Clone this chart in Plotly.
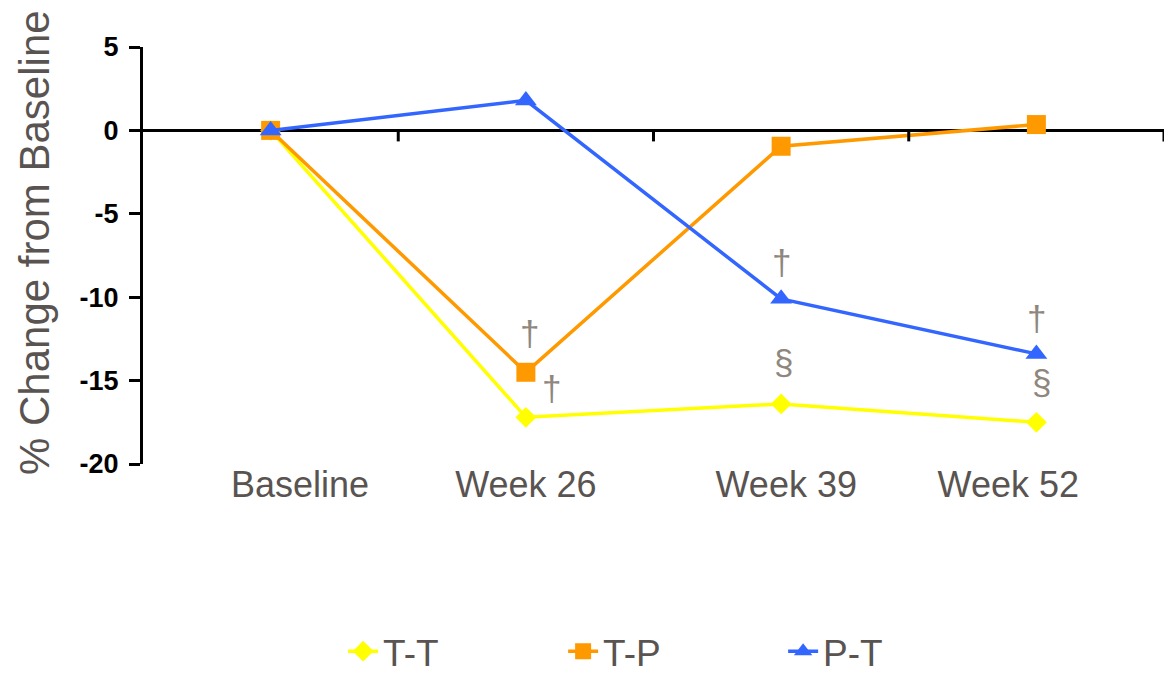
import plotly.graph_objects as go

categories = ["Baseline", "Week 26", "Week 39", "Week 52"]
tt_values = [0.0, -17.2, -16.4, -17.5]
tp_values = [0.0, -14.5, -0.95, 0.35]
pt_values = [0.0, 1.8, -10.1, -13.4]
series_names = ["T-T", "T-P", "P-T"]
y_ticks = [5, 0, -5, -10, -15, -20]
y_tick_text = ["5", "0", "-5", "-10", "-15", "-20"]

# significance marks: (category index, y value, symbol)
sig_marks = [
    (1, -12.2, "\u2020"),
    (1, -15.5, "\u2020"),
    (2, -7.9, "\u2020"),
    (2, -13.9, "\u00a7"),
    (3, -11.3, "\u2020"),
    (3, -15.1, "\u00a7"),
]
sig_xshift = [4, 26, 0, 2, 0, 5]

FONT = "Arial, Liberation Sans, sans-serif"
GRAY = "#595451"
MARK_GRAY = "#8f877e"

fig = go.Figure()
fig.add_trace(go.Scatter(
    x=categories, y=tt_values, name=series_names[0], mode="lines+markers",
    line=dict(color="#FFFF00", width=3.5),
    marker=dict(symbol="diamond", size=16, color="#FFFF00"),
))
fig.add_trace(go.Scatter(
    x=categories, y=tp_values, name=series_names[1], mode="lines+markers",
    line=dict(color="#FF9900", width=3.5),
    marker=dict(symbol="square", size=19, color="#FF9900"),
))
fig.add_trace(go.Scatter(
    x=categories, y=pt_values, name=series_names[2], mode="lines+markers",
    line=dict(color="#3366FF", width=3.5),
    marker=dict(symbol="triangle-up", size=19, color="#3366FF"),
))

annotations = []
for (xi, yv, s), xs in zip(sig_marks, sig_xshift):
    annotations.append(dict(
        x=xi, y=yv, xref="x", yref="y", text=s, showarrow=False,
        xshift=xs, font=dict(family=FONT, size=35, color=MARK_GRAY),
    ))
annotations.append(dict(
    x=0, y=0.53, xref="paper", yref="paper", text="% Change from Baseline",
    textangle=-90, showarrow=False, xanchor="center", yanchor="middle",
    xshift=-108, font=dict(family=FONT, size=42, color=GRAY),
))

shapes = []
for b in [0.5, 1.5, 2.5, 3.5]:
    shapes.append(dict(
        type="line", xref="x", yref="y", x0=b, x1=b,
        ysizemode="pixel", yanchor=0, y0=0, y1=-11,
        line=dict(color="black", width=3),
    ))

fig.update_layout(
    width=1164, height=673,
    margin=dict(l=143, r=0, t=47, b=209, autoexpand=False),
    paper_bgcolor="white", plot_bgcolor="white",
    showlegend=True,
    legend=dict(
        orientation="h", x=0.196, xanchor="left", y=-0.45, yanchor="middle",
        font=dict(family=FONT, size=37, color=GRAY),
        entrywidth=175, entrywidthmode="pixels", itemsizing="trace",
        bgcolor="rgba(0,0,0,0)",
    ),
    annotations=annotations,
    shapes=shapes,
    xaxis=dict(
        type="category", categoryorder="array", categoryarray=categories,
        range=[-0.5, 3.5], showgrid=False, zeroline=False, showline=False,
        ticks="", tickmode="array", automargin=False,
        tickvals=[0.115, 1.0, 2.02, 2.89], ticktext=categories,
        tickfont=dict(family=FONT, size=36, color=GRAY),
        ticklabelstandoff=-4,
    ),
    yaxis=dict(
        range=[-20, 5], tickmode="array", tickvals=y_ticks, ticktext=y_tick_text,
        showgrid=False, zeroline=True, zerolinecolor="black", zerolinewidth=3,
        showline=True, linecolor="black", linewidth=3, automargin=False,
        ticks="outside", ticklen=11, tickwidth=3, tickcolor="black",
        tickfont=dict(family=FONT, size=27, color="black", weight="bold"),
        ticklabelstandoff=5,
    ),
)

fig.write_html(
    "out.html",
    config={"displayModeBar": False},
    post_script="document.body.style.margin='0px';document.body.style.overflow='hidden';",
)
